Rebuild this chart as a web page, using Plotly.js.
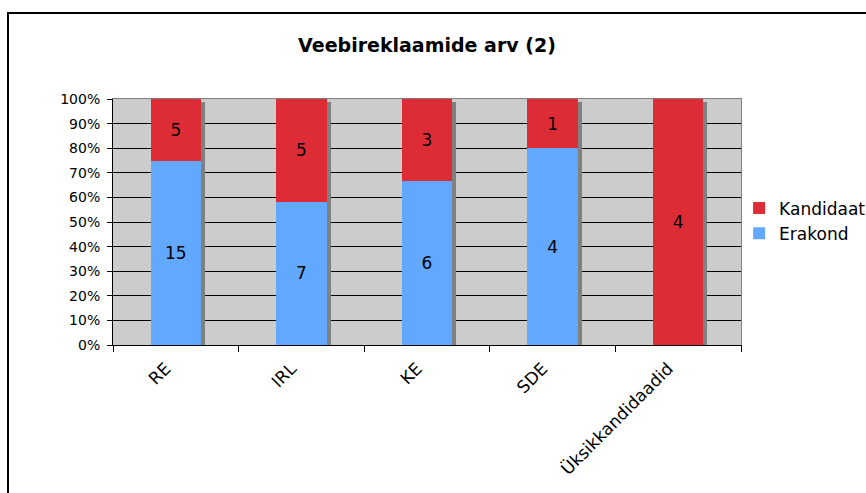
<!DOCTYPE html>
<html>
<head>
<meta charset="utf-8">
<script src="https://cdn.plot.ly/plotly-3.0.1.min.js"></script>
<style>
  body { margin: 0; background: #fff; }
  #wrap { position: relative; width: 866px; height: 493px; overflow: hidden; }
  #myDiv { width: 866px; height: 493px; }
  #frame { position: absolute; left: 7px; top: 12px; width: 1000px; height: 1000px;
           border-left: 2px solid #000; border-top: 2px solid #000; pointer-events: none; }
</style>
</head>
<body>
<div id="wrap">
  <div id="myDiv"></div>
  <div id="frame"></div>
</div>
<script>
  // values
  var categories = ["RE", "IRL", "KE", "SDE", "Üksikkandidaadid"];
  var erakond = [15, 7, 6, 4, 0];
  var kandidaat = [5, 5, 3, 1, 4];

  var totals = categories.map(function (c, i) { return erakond[i] + kandidaat[i]; });
  var label = function (v) { return v ? String(v) : ""; };

  // small offset for the excel-like shadow (in axis units)
  var dx = 4 / 125.6;
  var dy = 3 / 246 * 100;

  var data = [
    {
      // shadow behind the bars, sits on the base axes
      x: categories,
      y: totals,
      type: "bar",
      width: 0.4,
      marker: { color: "#808080" },
      hoverinfo: "skip",
      showlegend: false,
      xaxis: "x",
      yaxis: "y"
    },
    {
      x: categories,
      y: erakond,
      name: "Erakond",
      type: "bar",
      width: 0.4,
      marker: { color: "#62a8ff" },
      text: erakond.map(label),
      textposition: "inside",
      insidetextanchor: "middle",
      textfont: { color: "#000", size: 17 },
      legendgroup: "a",
      xaxis: "x2",
      yaxis: "y2"
    },
    {
      x: categories,
      y: kandidaat,
      name: "Kandidaat",
      type: "bar",
      width: 0.4,
      marker: { color: "#dd2c35" },
      text: kandidaat.map(label),
      textposition: "inside",
      insidetextanchor: "middle",
      textfont: { color: "#000", size: 17 },
      legendgroup: "b",
      xaxis: "x2",
      yaxis: "y2"
    }
  ];

  var layout = {
    width: 866,
    height: 493,
    margin: { l: 113, r: 125, t: 99, b: 148, autoexpand: false },
    paper_bgcolor: "#fff",
    plot_bgcolor: "#cccccc",
    font: { family: "DejaVu Sans, Verdana, sans-serif", size: 14, color: "#000" },
    barmode: "stack",
    barnorm: "percent",
    title: {
      text: "<b>Veebireklaamide arv (2)</b>",
      font: { size: 19 },
      x: 0.5,
      xref: "paper",
      xanchor: "center",
      y: 1 - 45 / 493,
      yref: "container",
      yanchor: "middle"
    },
    xaxis: {
      type: "category",
      range: [-0.5 - dx, 4.5 - dx],
      showticklabels: false,
      ticks: "",
      showgrid: false,
      zeroline: false,
      showline: true,
      mirror: true,
      linecolor: "#808080",
      linewidth: 1,
      fixedrange: true
    },
    yaxis: {
      range: [dy, 100 + dy],
      showticklabels: false,
      ticks: "",
      showgrid: false,
      zeroline: false,
      showline: true,
      mirror: true,
      linecolor: "#808080",
      linewidth: 1,
      fixedrange: true
    },
    xaxis2: {
      type: "category",
      overlaying: "x",
      side: "bottom",
      range: [-0.5, 4.5],
      tickson: "boundaries",
      ticks: "outside",
      ticklen: 6,
      tickcolor: "#000",
      tickangle: -45,
      tickfont: { size: 17 },
      ticklabelshift: -10,
      ticklabelstandoff: 6,
      showgrid: false,
      zeroline: false,
      showline: true,
      linecolor: "#000",
      linewidth: 1,
      fixedrange: true
    },
    yaxis2: {
      overlaying: "y",
      side: "left",
      range: [0, 100],
      dtick: 10,
      ticksuffix: "%",
      ticks: "outside",
      ticklen: 5,
      tickcolor: "#000",
      ticklabelstandoff: 4,
      showgrid: true,
      gridcolor: "#000",
      gridwidth: 1,
      zeroline: false,
      showline: true,
      linecolor: "#000",
      linewidth: 1,
      fixedrange: true
    },
    legend: {
      x: 0.997,
      xanchor: "left",
      y: 0.504,
      yanchor: "middle",
      traceorder: "reversed",
      tracegroupgap: 2,
      bgcolor: "rgba(0,0,0,0)",
      font: { size: 17 }
    },
    showlegend: true
  };

  Plotly.newPlot("myDiv", data, layout, { displayModeBar: false, staticPlot: true });
</script>
</body>
</html>
